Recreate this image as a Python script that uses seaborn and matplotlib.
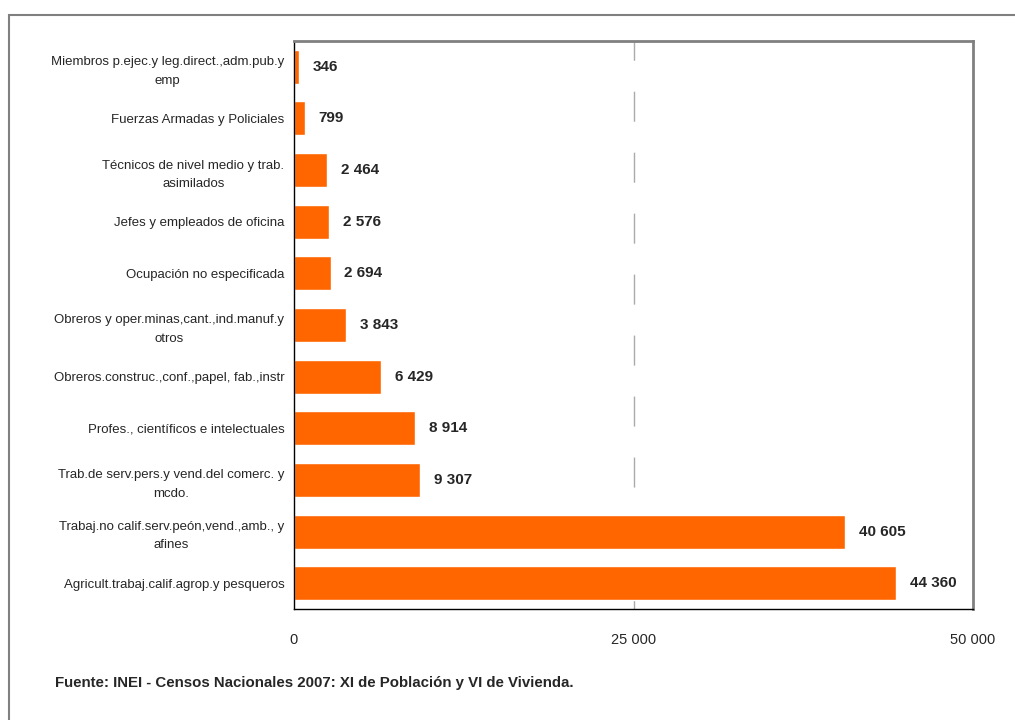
import matplotlib
matplotlib.use("Agg")
import matplotlib.pyplot as plt
import matplotlib.patches as mpatches
import seaborn as sns
import pandas as pd
import numpy as np

categorias = [
    "Miembros p.ejec.y leg.direct.,adm.pub.y\nemp",
    "Fuerzas Armadas y Policiales",
    "Técnicos de nivel medio y trab.\nasimilados",
    "Jefes y empleados de oficina",
    "Ocupación no especificada",
    "Obreros y oper.minas,cant.,ind.manuf.y\notros",
    "Obreros.construc.,conf.,papel, fab.,instr",
    "Profes., científicos e intelectuales",
    "Trab.de serv.pers.y vend.del comerc. y\nmcdo.",
    "Trabaj.no calif.serv.peón,vend.,amb., y\nafines",
    "Agricult.trabaj.calif.agrop.y pesqueros",
]
valores = [346, 799, 2464, 2576, 2694, 3843, 6429, 8914, 9307, 40605, 44360]
xticks = [0, 25000, 50000]
fuente = "Fuente: INEI - Censos Nacionales 2007: XI de Población y VI de Vivienda."

sns.set_style("white")
plt.rcParams['font.family'] = ['Liberation Sans Narrow', 'Liberation Sans', 'DejaVu Sans']

df = pd.DataFrame({"cat": categorias, "val": valores})

fig = plt.figure(figsize=(10.15, 7.2), dpi=100)
ax = fig.add_axes([294/1015, 1-609/720, (973-294)/1015, (609-41)/720])

sns.barplot(data=df, y="cat", x="val", orient="h", color="#FF6600",
            saturation=1, width=0.66, ax=ax)

ax.set_xlim(0, 50000)
ax.set_ylim(len(categorias)-0.5, -0.5)
ax.set_xlabel("")
ax.set_ylabel("")

ax.set_xticks(xticks)
ax.set_xticklabels([f"{t:,}".replace(",", " ") for t in xticks], fontsize=10.5)
ax.tick_params(axis="x", direction="out", length=5, width=1, color="black", pad=12)
ax.tick_params(axis="y", which="major", length=0, pad=7, labelsize=9.5)
ax.set_yticks(np.arange(-0.5, len(categorias)), minor=True)
ax.tick_params(axis="y", which="minor", direction="out", length=5, width=1, color="black")
for lab in ax.get_yticklabels():
    lab.set_multialignment("center")
    lab.set_linespacing(1.7)

ax.axvline(25000, color="#aaaaaa", lw=1, ls=(0, (21.6, 22.3)), zorder=0)

for s in ["left", "bottom"]:
    ax.spines[s].set_color("black")
    ax.spines[s].set_linewidth(1)
for s in ["top", "right"]:
    ax.spines[s].set_color("#808080")
    ax.spines[s].set_linewidth(2)

for i, v in enumerate(valores):
    ax.annotate(f"{v:,}".replace(",", " "), xy=(v, i), xytext=(10, 0),
                textcoords="offset points", ha="left", va="center",
                fontsize=11, fontweight="bold")

fig.text(55/1015, 1-683/720, fuente, fontsize=10.8, fontweight="bold",
         ha="left", va="center")

fig.patches.append(mpatches.Rectangle((9/1015, -0.05), 1.0, 1-15/720+0.05,
                                      transform=fig.transFigure, fill=False,
                                      edgecolor="#808080", lw=1.5))

fig.savefig("out.png", dpi=100)
